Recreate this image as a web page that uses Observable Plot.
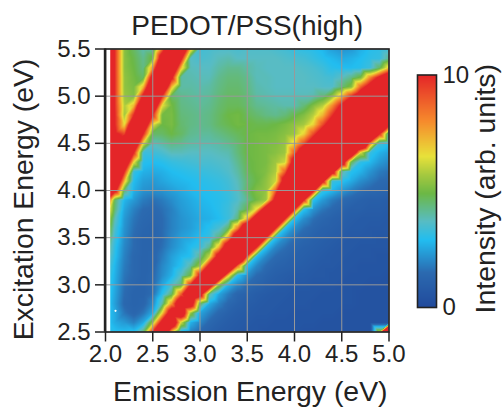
<!DOCTYPE html>
<html>
<head>
<meta charset="utf-8">
<script src="https://cdn.jsdelivr.net/npm/d3@7"></script>
<script src="https://cdn.jsdelivr.net/npm/@observablehq/plot@0.6"></script>
<style>
html,body{margin:0;padding:0;background:#fff;}
#wrap{position:relative;width:504px;height:409px;overflow:hidden;}
#wrap svg{position:absolute;top:0;}
</style>
</head>
<body>
<div id="wrap"></div>
<script>
const titleText = "PEDOT/PSS(high)";
const xLabel = "Emission Energy (eV)";
const yLabel = "Excitation Energy (eV)";
const barLabel = "Intensity (arb. units)";
const xTicks = [2, 2.5, 3, 3.5, 4, 4.5, 5];
const yTicks = [2.5, 3, 3.5, 4, 4.5, 5, 5.5];
const emission = [2.05,2.1,2.2,2.3,2.4,2.5,2.6,2.7,2.8,2.9,3.0,3.1,3.2,3.3,3.4,3.5,3.6,3.7,3.8,3.9,4.0,4.1,4.2,4.3,4.4,4.5,4.6,4.7,4.8,4.9,5.0];
const excitation = [5.5,5.4,5.3,5.2,5.1,5.0,4.9,4.8,4.7,4.6,4.5,4.4,4.3,4.2,4.1,4.0,3.9,3.8,3.7,3.6,3.5,3.4,3.3,3.2,3.1,3.0,2.9,2.8,2.7,2.6,2.5];
const speck = [{x: 2.106, y: 2.725}];
const colorStops = [0,1.5,2.9,3.7,4.9,5.7,6.5,8,10];
const colorRange = ["#214a9c","#2b6ab0","#22bdf0","#58bcc4","#6cb845","#a5c93f","#e8e23a","#f68b2c","#e42528"];
const intensity = [
[13,9.8,5.3,4.6,3.9,4.0,8.6,14,14.2,7.2, 3.4,3.5,3.6,3.6,3.5,3.6,3.6,3.6,3.5,3.4, 3.2,3.1,3.0,2.8,2.4,2.2,2.3,2.7,3.0,3.1,3.4],
[13,9.8,5.3,4.8,4.2,5.1,12.1,17,10.7,3.7, 3.5,3.6,3.8,3.9,3.7,3.7,3.7,3.7,3.7,3.6, 3.5,3.4,3.2,3.0,2.8,2.6,2.7,2.9,3.1,3.2,4.2],
[13,9.8,5.3,4.9,4.3,7.9,14.9,14.2,7.2,3.8, 3.7,3.7,4.0,4.2,4.2,4.0,3.8,3.7,3.7,3.7, 3.7,3.6,3.5,3.3,3.0,2.9,2.9,3.0,3.3,4.6,7],
[13,9.8,5.4,5.0,4.6,11.4,15.7,10.7,4.0,3.9, 3.8,3.8,4.2,4.4,4.4,4.2,3.8,3.8,3.7,3.7, 3.7,3.7,3.6,3.5,3.4,3.7,4.2,5.0,8,10.5,13],
[13,9.8,5.4,5.1,7.2,14.2,14.2,7.2,4.0,4.0, 3.9,4.0,4.3,4.5,4.5,4.3,3.9,3.8,3.7,3.7, 3.7,3.7,3.7,3.6,3.6,4.4,5.2,8.75,11.25,13.75,16],
[13,9.8,5.5,5.2,10.7,17,10,4.6,4.2,4.1, 4.0,4.1,4.4,4.6,4.6,4.4,4.0,3.9,3.8,3.8, 3.8,3.8,3.9,4.4,5.4,7.25,9.75,12.25,14.75,17,18],
[13,9.8,5.8,7.2,14.2,13.5,6.5,5.0,4.3,4.2, 4.1,4.2,4.5,4.7,4.7,4.5,4.2,4.1,4.0,3.9, 3.9,4.4,5.2,5.9,8,10.5,13,15.5,18,18,18],
[13,10,5.6,10,17,10,5.0,5.1,4.4,4.3, 4.2,4.3,4.6,4.9,5.0,4.7,4.5,4.3,4.2,4.4, 4.8,5.2,5.9,7.25,9.75,12.25,14.75,17,18,18,18],
[13,10,6.5,13.5,13.5,6.5,4.9,5.1,4.5,4.3, 4.2,4.3,4.6,4.8,5.0,4.9,4.8,4.8,4.9,5.1, 5.4,5.7,6.75,9.25,11.75,14.25,16.75,18,18,18,11],
[13,10.5,9.3,16,10,4.6,4.6,4.9,4.6,4.2, 4.1,4.1,4.3,4.5,4.7,4.9,5.0,5.0,5.1,5.3, 5.6,6.75,9.25,11.75,14.25,16.75,19,20,17.5,10,3.5],
[13,12,14,13.5,6.5,3.8,4.0,4.3,4.2,4.0, 3.9,3.9,4.0,4.2,4.5,4.9,5.0,5.1,5.2,5.5, 6.8,9.25,11.75,14.25,17,20,20,16,8.5,3.4,2.9],
[12,11,17,10,3.3,3.3,3.5,3.8,3.8,3.7, 3.7,3.7,3.8,3.9,4.4,4.9,5.0,5.1,5.3,5.6, 9,12.5,16,19,20,20,13.75,6.25,3.2,2.7,2.4],
[11,12,13.5,6.5,3.0,2.9,3.0,3.2,3.3,3.4, 3.5,3.5,3.6,3.7,4.2,4.8,5.0,5.1,5.6,6.15, 11.65,17,19,20,19.75,12.25,4.75,3.1,2.8,2.3,2.0],
[10.5,17,10,3.2,2.7,2.6,2.7,2.9,3.0,3.1, 3.2,3.3,3.4,3.6,4.0,4.7,5.0,5.2,5.8,8.9, 14.4,19,20,19,11.5,4,3,2.7,2.2,1.8,1.6],
[10,14,7.2,2.9,2.4,2.3,2.5,2.7,2.8,2.9, 3.0,3.1,3.2,3.4,3.8,4.5,4.9,5.4,6.15,11.65, 17,20,18,10.75,3.3,3.0,2.6,2.1,1.8,1.5,1.4],
[14,11,4.4,2.7,2.2,2.1,2.2,2.4,2.6,2.8, 2.9,3.0,3.1,3.3,3.7,4.6,5.2,5.5,8.9,14.4, 19,18,10.75,3.25,2.8,2.3,1.9,1.6,1.4,1.3,1.2],
[8,4.6,2.8,2.3,1.8,1.6,1.8,2.1,2.4,2.6, 2.8,2.9,3.0,3.2,3.6,4.2,5.0,5.6,11.1,16.6, 17.5,10,3,2.3,1.8,1.5,1.3,1.1,1.0,1.0,0.9],
[6.3,4.4,2.5,1.9,1.5,1.4,1.6,1.9,2.3,2.5, 2.7,2.8,3.0,3.3,3.9,4.8,6.7,12.2,17.7,17.5, 10,3,2.2,1.7,1.4,1.2,1.0,1.0,0.9,0.9,0.8],
[5.3,3.8,2.3,1.7,1.4,1.3,1.5,1.9,2.2,2.4, 2.6,2.7,2.9,3.3,4.4,7.25,12.75,18,17.5,10, 3,2.1,1.6,1.3,1.1,1.0,0.9,0.8,0.8,0.8,0.7],
[4.8,3.5,2.2,1.6,1.3,1.2,1.5,1.9,2.2,2.4, 2.7,3.0,3.5,4.6,8.35,13.85,18,17.5,10,3, 2.1,1.6,1.3,1.1,1.0,0.9,0.8,0.8,0.7,0.7,0.7],
[4.4,3.3,2.1,1.5,1.2,1.2,1.5,2.0,2.4,2.6, 2.9,3.2,4.4,7.8,13.3,18,17.5,10,3,2.1, 1.6,1.3,1.1,1.0,0.9,0.8,0.7,0.7,0.7,0.6,0.6],
[4.0,3.1,2.0,1.5,1.2,1.2,1.6,2.1,2.5,2.9, 3.2,4.2,7.25,12.75,18,17.5,10,3,2.0,1.6, 1.3,1.1,1.0,0.9,0.8,0.7,0.7,0.6,0.6,0.6,0.6],
[3.7,3.0,1.9,1.4,1.2,1.3,1.8,2.4,2.8,3.0, 4.2,6.15,11.6,17,16.7,9.2,2.9,2.0,1.5,1.3, 1.1,1.0,0.9,0.8,0.7,0.7,0.6,0.6,0.6,0.5,0.5],
[3.4,2.8,1.8,1.4,1.2,1.3,2.0,2.5,3.0,4.0, 5.6,11,16.6,16,8.5,3,2.0,1.5,1.2,1.1, 1.0,0.9,0.8,0.7,0.7,0.6,0.6,0.5,0.5,0.5,0.5],
[3.2,2.7,1.7,1.4,1.2,1.4,2.1,2.7,3.7,5.0, 10.5,16,14.5,7,3,2.1,1.5,1.2,1.0,0.9, 0.8,0.8,0.7,0.7,0.6,0.6,0.5,0.5,0.5,0.5,0.4],
[3.1,2.6,1.6,1.3,1.2,1.5,2.5,3.5,4.5,10, 15.5,13,5.5,2.8,2.0,1.5,1.2,1.0,0.9,0.8, 0.7,0.7,0.6,0.6,0.6,0.5,0.5,0.5,0.4,0.4,0.4],
[3.0,2.5,1.5,1.2,1.2,1.6,3.0,4.6,8.9,14.4, 11.5,4,2.5,1.8,1.3,1.1,0.9,0.8,0.7,0.7, 0.6,0.6,0.6,0.5,0.5,0.5,0.5,0.4,0.4,0.4,0.4],
[2.9,2.4,1.4,1.2,1.3,2.0,4,7.8,13.3,12.25, 4.75,2.6,1.9,1.4,1.1,0.9,0.8,0.7,0.7,0.6, 0.6,0.6,0.5,0.5,0.5,0.5,0.5,0.4,0.4,0.4,0.4],
[2.9,2.6,1.7,1.3,1.7,2.6,6.7,12.2,13,5.5, 2.5,1.9,1.4,1.1,0.9,0.8,0.7,0.7,0.6,0.6, 0.5,0.5,0.5,0.5,0.5,0.4,0.4,0.4,0.4,0.4,0.4],
[2.9,2.6,2.3,1.9,2.6,5.6,11.1,13.8,6.25,2.7, 2.0,1.4,1.1,0.9,0.8,0.7,0.6,0.6,0.5,0.5, 0.5,0.5,0.5,0.4,0.4,0.4,0.4,0.4,0.4,0.4,0.5],
[3.0,3.0,2.9,3.0,4.5,10,14.5,7,2.6,1.9, 1.4,1.1,0.9,0.8,0.7,0.6,0.6,0.5,0.5,0.5, 0.5,0.4,0.4,0.4,0.4,0.4,0.4,0.4,0.4,6,25]
];

const font = "'Liberation Sans', Arial, sans-serif";
const ink = "#222";
const samples = intensity.flatMap((row, j) => row.map((v, i) => ({x: emission[i], y: excitation[j], v})));
const colorOpts = {type: "linear", domain: colorStops, range: colorRange, clamp: true, interpolate: "rgb"};

const main = Plot.plot({
  width: 504, height: 409,
  marginLeft: 105, marginRight: 115.5, marginTop: 48.5, marginBottom: 77.5,
  style: {fontFamily: font, color: ink, background: "transparent"},
  x: {domain: [2, 5]},
  y: {domain: [2.5, 5.5]},
  color: colorOpts,
  marks: [
    Plot.raster(samples, {x: "x", y: "y", fill: "v", interpolate: "barycentric", x1: 2.05, x2: 5, y1: 2.5, y2: 5.5, pixelSize: 1}),
    Plot.dot(speck, {x: "x", y: "y", r: 1.1, fill: "#fff", stroke: "none"}),
    Plot.gridX(xTicks, {stroke: "#999", strokeOpacity: 1, strokeWidth: 1}),
    Plot.gridY(yTicks, {stroke: "#999", strokeOpacity: 1, strokeWidth: 1}),
    Plot.frame({stroke: ink, strokeWidth: 1.6}),
    Plot.ruleX([2], {stroke: ink, strokeWidth: 2.4, dx: -0.5}),
    Plot.axisX(xTicks, {anchor: "bottom", tickSize: 10, tickPadding: 3, strokeWidth: 1.5, fontSize: 24, tickFormat: d3.format(".1f"), label: null}),
    Plot.axisY(yTicks, {anchor: "left", tickSize: 10, tickPadding: 5, strokeWidth: 1.5, fontSize: 24, tickFormat: d3.format(".1f"), label: null}),
    Plot.text([titleText], {frameAnchor: "top", lineAnchor: "middle", dy: -22.5, fontSize: 28, fill: ink}),
    Plot.text([xLabel], {frameAnchor: "bottom", lineAnchor: "middle", dx: 3, dy: 59.5, fontSize: 28.4, fill: ink}),
    Plot.text([yLabel], {frameAnchor: "left", textAnchor: "middle", lineAnchor: "middle", rotate: -90, dx: -82, dy: 9, fontSize: 28.3, fill: ink})
  ]
});
document.getElementById("wrap").appendChild(main);

const bar = Plot.plot({
  width: 104, height: 409,
  marginLeft: 17, marginRight: 68, marginTop: 74.5, marginBottom: 102,
  style: {fontFamily: font, color: ink, background: "transparent"},
  x: {domain: [0, 1], axis: null},
  y: {domain: [0, 10]},
  color: colorOpts,
  marks: [
    Plot.raster({fill: (x, y) => y, x1: 0, x2: 1, y1: 0, y2: 10, pixelSize: 1}),
    Plot.frame({stroke: ink, strokeWidth: 1.6}),
    Plot.axisY([0, 10], {anchor: "right", tickSize: 0, tickPadding: 6, fontSize: 24, label: null}),
    Plot.text([barLabel], {frameAnchor: "right", textAnchor: "middle", lineAnchor: "middle", rotate: -90, dx: 49, dy: -2.5, fontSize: 28.4, fill: ink})
  ]
});
bar.style.left = "400px";
document.getElementById("wrap").appendChild(bar);
</script>
</body>
</html>
